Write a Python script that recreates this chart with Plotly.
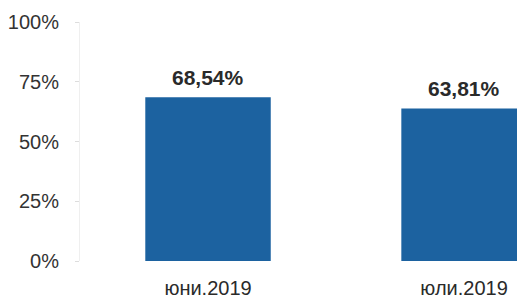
import plotly.graph_objects as go

categories = ["юни.2019", "юли.2019"]
values = [68.54, 63.81]
tick_vals = [0, 25, 50, 75, 100]
tick_text = ["0%", "25%", "50%", "75%", "100%"]

BLUE = "#1c62a0"
FONT = "Liberation Sans, Arial"

fig = go.Figure(go.Bar(
    x=categories, y=values,
    marker=dict(color=BLUE, line=dict(width=0)),
    width=0.49,
    hoverinfo="skip",
))

# data labels above bars, drawn from the data
for c, v in zip(categories, values):
    fig.add_annotation(
        x=c, y=v, xref="x", yref="y",
        text="<b>" + f"{v:.2f}".replace(".", ",") + "%</b>",
        showarrow=False, yanchor="middle", yshift=20,
        font=dict(family=FONT, size=21, color="#2a2a2a"),
    )

# page body adds an 8px offset; figure sized to fit the 525x299 window
fig.update_layout(
    width=517, height=291,
    margin=dict(l=72, r=0, t=14, b=36),
    paper_bgcolor="white", plot_bgcolor="white",
    showlegend=False,
    font=dict(family=FONT, color="#333333"),
)
fig.update_yaxes(range=[0, 100], tickvals=tick_vals, ticktext=tick_text,
                 showgrid=False, zeroline=False, showline=True, linecolor="#efefef",
                 ticks="outside", ticklen=4, tickcolor="#dddddd", ticklabelstandoff=12,
                 tickfont=dict(size=20, color="#333333"))
fig.update_xaxes(range=[-0.5, 1.238], showgrid=False, showline=False, ticks="",
                 tickfont=dict(size=20, color="#2a2a2a"), ticklabelstandoff=13)
fig.write_html("out.html")
